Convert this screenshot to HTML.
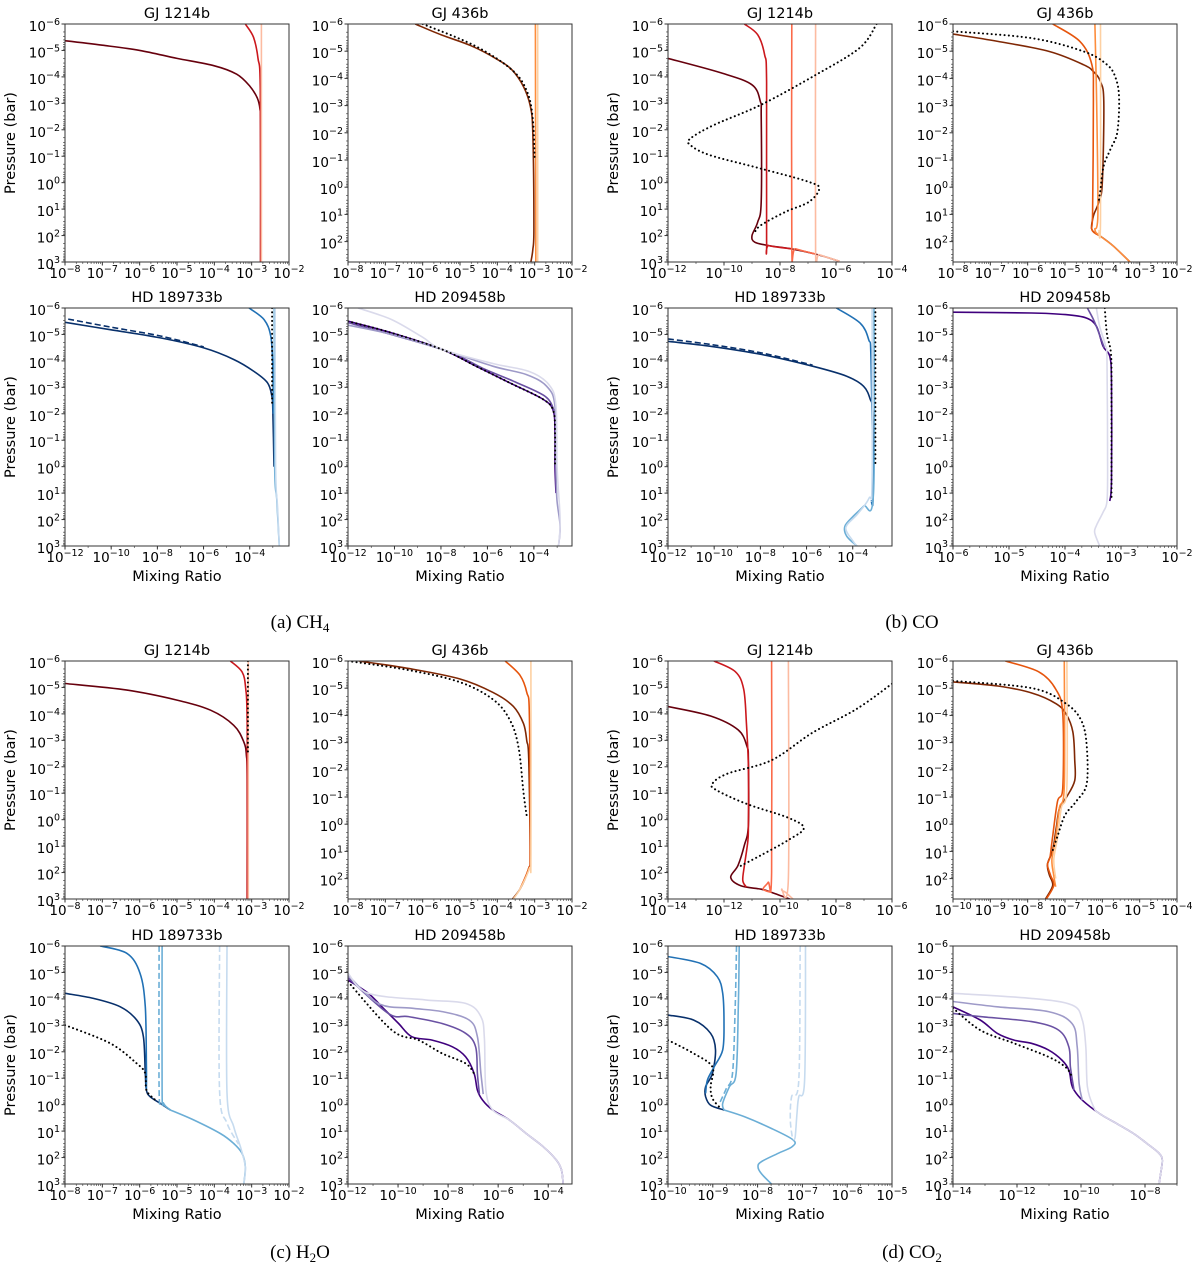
<!DOCTYPE html>
<html><head><meta charset="utf-8">
<style>
html,body{margin:0;padding:0;background:#fff;}
svg{display:block;}
text{font-family:"DejaVu Sans","Liberation Sans",sans-serif;fill:#000;}
.cap{font-family:"Liberation Serif",serif;font-size:19px;}
</style></head>
<body>
<svg id="fig" width="1200" height="1271" viewBox="0 0 1200 1271" xmlns="http://www.w3.org/2000/svg">
<text class="cap" x="300" y="628" text-anchor="middle">(a) CH<tspan dy="4" font-size="13">4</tspan></text>
<text class="cap" x="912" y="628" text-anchor="middle">(b) CO</text>
<text class="cap" x="300" y="1258" text-anchor="middle">(c) H<tspan dy="4" font-size="13">2</tspan><tspan dy="-4">O</tspan></text>
<text class="cap" x="912" y="1258" text-anchor="middle">(d) CO<tspan dy="4" font-size="13">2</tspan></text>
</svg>
<script>
// ---- data: [log10 mixing ratio, log10 pressure] ----
const a1_dark=[[-8,-5.37],[-7,-5.2],[-6,-5.0],[-5,-4.7],[-4,-4.42],[-3.4,-4.1],[-3.05,-3.65],[-2.85,-3.2],[-2.78,-2.8],[-2.76,-2],[-2.76,3]];
const a1_red=[[-3.17,-6],[-2.95,-5.5],[-2.83,-4.7],[-2.77,-3.5],[-2.76,3]];
const a1_light=[[-2.74,-6],[-2.74,3]];
const a2_dark=[[-6.2,-6],[-5.5,-5.6],[-4.7,-5.2],[-4.0,-4.7],[-3.6,-4.3],[-3.3,-3.7],[-3.12,-3.0],[-3.05,-2],[-3.02,1.5],[-3.05,2.3],[-3.1,2.75]];
const a2_dot=[[-6.0,-6],[-4.6,-5.2],[-3.6,-4.3],[-3.2,-3.5],[-3.05,-2.5],[-3.0,-1]];
const a2_orange=[[-2.98,-6],[-2.97,2.75]];
const a2_light=[[-2.92,-6],[-2.92,2.75]];
const a3_navy=[[-12,-5.46],[-10.04,-5.18],[-7.87,-4.87],[-5.99,-4.49],[-4.68,-4.05],[-3.81,-3.6],[-3.23,-3.17],[-3.04,-2.66],[-3.0,-2.16],[-2.95,0]];
const a3_navyd=[[-11.86,-5.58],[-10.04,-5.28],[-7.87,-4.94],[-5.99,-4.53]];
const a3_blue=[[-4.03,-6],[-3.38,-5.56],[-3.09,-4.93],[-3.0,-3.8],[-2.98,-2]];
const a3_light=[[-2.94,-6],[-2.92,0],[-2.83,1.24],[-2.72,3]];
const a3_lightest=[[-2.9,-6],[-2.88,0],[-2.8,1.5],[-2.72,3]];
const a3_dot=[[-3.03,-6],[-3.03,-2.3]];
const a4_dark=[[-12,-5.5],[-10.12,-5.06],[-7.94,-4.43],[-6.49,-3.8],[-5.04,-3.17],[-3.59,-2.54],[-3.16,-2.1],[-3.09,-1.28],[-3.09,0],[-3.05,1.0]];
const a4_mid=[[-12,-5.45],[-7.94,-4.43],[-6.2,-3.72],[-4.8,-3.2],[-3.5,-2.65],[-3.12,-2.1]];
const a4_light=[[-12,-5.35],[-10.12,-5.0],[-7.94,-4.43],[-5.77,-3.8],[-4.32,-3.48],[-3.45,-3.04],[-3.09,-2.28],[-3.05,0],[-3.01,1.24],[-2.87,2.25],[-2.94,3]];
const a4_lightest=[[-11.57,-6],[-10.12,-5.56],[-8.8,-4.9],[-7.94,-4.43],[-5.77,-3.9],[-4.2,-3.6],[-3.35,-3.1],[-3.05,-2.3],[-3.0,0],[-2.9,1.5],[-2.87,2.25],[-2.94,3]];
const a4_dot=[[-12,-5.5],[-10.12,-5.06],[-7.94,-4.43],[-6.49,-3.8],[-5.04,-3.17],[-3.59,-2.54],[-3.16,-2.1],[-3.09,-1.28],[-3.09,0]];

const b1_dark=[[-12,-4.7],[-10.1,-4.15],[-9.0,-3.7],[-8.7,-3.06],[-8.67,-2.56],[-8.67,0.73],[-8.8,1.5],[-9.0,2.0],[-8.9,2.25],[-8.4,2.38],[-7.6,2.5],[-6.73,2.7],[-5.88,2.97]];
const b1_red=[[-9.27,-6],[-8.8,-5.6],[-8.55,-4.84],[-8.48,-3.8],[-8.48,2.2],[-8.4,2.38],[-7.6,2.5]];
const b1_mid=[[-7.58,-6],[-7.58,2.38],[-7.45,2.5],[-6.73,2.7]];
const b1_light=[[-6.73,-6],[-6.73,2.6],[-6.6,2.72],[-5.88,2.97]];
const b1_dot=[[-4.55,-6],[-5.15,-5.1],[-6.73,-4.07],[-8.67,-2.95],[-10.36,-2.18],[-11.2,-1.67],[-11.2,-1.42],[-10.5,-1.04],[-8.67,-0.53],[-6.97,-0.03],[-6.6,0.23],[-6.97,0.73],[-7.8,1.1],[-8.67,1.6],[-8.9,1.86]];
const b2_dark=[[-8,-5.63],[-6.8,-5.36],[-5.42,-4.99],[-4.5,-4.5],[-4.24,-4.25],[-4.05,-3.88],[-3.96,-3.14],[-4.0,-0.17],[-4.1,0.57],[-4.24,1.06],[-4.28,1.56],[-4.05,1.8],[-3.7,2.17],[-3.23,2.79]];
const b2_orange=[[-5.33,-6],[-4.6,-5.36],[-4.28,-4.5],[-4.24,-3.26],[-4.26,0.9],[-4.28,1.56],[-4.05,1.8]];
const b2_light=[[-4.2,-6],[-4.15,-3],[-4.12,1.0],[-4.2,1.56],[-4.05,1.8],[-3.7,2.17],[-3.23,2.79]];
const b2_lightest=[[-4.05,-6],[-4.05,1.2],[-4.1,1.6]];
const b2_dot=[[-8,-5.73],[-5.9,-5.48],[-4.5,-4.99],[-3.87,-4.5],[-3.64,-4.0],[-3.55,-3.26],[-3.6,-2.02],[-3.78,-1.4],[-3.96,-0.8],[-4.05,0.07],[-4.1,0.57]];
const b3_navy=[[-12,-4.74],[-10.15,-4.55],[-7.94,-4.24],[-5.74,-3.8],[-4.26,-3.42],[-3.53,-3.04],[-3.24,-2.54],[-3.15,-2.03],[-3.12,0.99]];
const b3_navyd=[[-12,-4.83],[-10.15,-4.62],[-7.94,-4.3],[-5.74,-3.84]];
const b3_blue=[[-4.71,-6],[-3.68,-5.43],[-3.31,-4.8],[-3.21,-4.05],[-3.12,1.0],[-3.2,1.3]];
const b3_light=[[-3.08,-6],[-3.1,1.0],[-3.53,1.49],[-3.97,1.87],[-4.34,2.25],[-4.26,2.63],[-3.82,3]];
const b3_lightest=[[-3.16,-6],[-3.16,0.5],[-3.3,1.2],[-3.8,1.8],[-4.3,2.3],[-4.0,2.8],[-3.82,3]];
const b3_dot=[[-3.02,-6],[-3.02,0]];
const b4_dark=[[-6,-5.84],[-4.6,-5.81],[-3.99,-5.75],[-3.62,-5.62],[-3.44,-5.31],[-3.32,-4.55],[-3.2,-4.17],[-3.17,-3.17],[-3.17,0.5],[-3.2,1.3]];
const b4_mid=[[-3.6,-6],[-3.5,-5.6],[-3.42,-5.2],[-3.3,-4.5]];
const b4_light=[[-3.44,-6],[-3.38,-5.3],[-3.28,-4.6],[-3.25,-4],[-3.24,0],[-3.25,1.3],[-3.32,1.72],[-3.44,2.23],[-3.47,2.5],[-3.38,3]];
const b4_dot=[[-3.29,-6],[-3.25,-5.0],[-3.18,-4.3],[-3.17,-3],[-3.17,1.2]];

const c1_dark=[[-8,-5.15],[-6.34,-4.9],[-5.0,-4.52],[-4.1,-4.14],[-3.48,-3.57],[-3.21,-2.94],[-3.14,-2.43],[-3.12,-1.5],[-3.12,3]];
const c1_red=[[-3.57,-6],[-3.26,-5.59],[-3.16,-4.96],[-3.12,-3.5],[-3.12,3]];
const c1_light=[[-3.09,-6],[-3.09,3]];
const c1_dot=[[-3.1,-6],[-3.1,-2.5]];
const c2_dark=[[-7.71,-6],[-6.36,-5.72],[-5.0,-5.34],[-4.11,-4.84],[-3.57,-4.33],[-3.3,-3.7],[-3.21,-3.06],[-3.16,-2.43],[-3.12,1.11],[-3.16,1.62],[-3.39,2.38],[-3.75,3.0]];
const c2_dot=[[-8,-6],[-6.36,-5.66],[-5.0,-5.22],[-4.11,-4.58],[-3.66,-3.82],[-3.43,-2.81],[-3.3,-1.16],[-3.21,-0.28]];
const c2_orange=[[-3.79,-6],[-3.39,-5.47],[-3.21,-4.84],[-3.14,-3.95],[-3.12,1.11],[-3.16,1.62],[-3.39,2.38]];
const c2_light=[[-3.1,-6],[-3.1,1.11],[-3.14,1.62],[-3.39,2.38],[-3.6,2.8]];
const c3_navy=[[-8,-4.21],[-7.24,-4.02],[-6.52,-3.7],[-6.08,-3.2],[-5.9,-2.57],[-5.85,-1.18],[-5.82,-0.55],[-5.72,-0.3],[-5.45,-0.05],[-5.18,0.2]];
const c3_tail=[[-5.18,0.2],[-4.55,0.58],[-3.84,1.09],[-3.48,1.47],[-3.26,1.84],[-3.17,2.35],[-3.21,3]];
const c3_blue=[[-7.06,-6],[-6.34,-5.72],[-5.99,-4.97],[-5.85,-3.7],[-5.82,-1.5],[-5.82,-0.55]];
const c3_lb=[[-5.4,-6],[-5.4,-0.55],[-5.36,-0.05],[-5.18,0.2]];
const c3_lbd=[[-5.48,-6],[-5.48,-0.6],[-5.42,-0.1],[-5.18,0.2]];
const c3_vl=[[-3.66,-6],[-3.66,-0.45],[-3.48,0.83],[-3.3,1.6],[-3.17,2.35],[-3.21,3]];
const c3_vld=[[-3.86,-6],[-3.86,-0.5],[-3.66,0.7],[-3.35,1.5]];
const c3_dot=[[-8,-3.01],[-6.79,-2.32],[-6.08,-1.56],[-5.85,-1.18],[-5.82,-0.55],[-5.6,-0.2]];
const c4_dark=[[-12,-4.71],[-11.19,-4.21],[-10.52,-3.58],[-9.98,-3.07],[-9.45,-2.57],[-8.64,-2.44],[-7.83,-2.19],[-7.3,-1.81],[-6.96,-1.18],[-6.83,-0.55],[-6.62,-0.17],[-6.22,0.2],[-5.55,0.58],[-4.88,1.09],[-4.2,1.59],[-3.67,2.1],[-3.47,2.47],[-3.4,3]];
const c4_dot=[[-12,-4.65],[-10.25,-2.82],[-9.18,-2.44],[-8.24,-1.94],[-7.3,-1.56],[-6.96,-1.18]];
const c4_mid=[[-12,-4.8],[-10.39,-3.45],[-9.58,-3.33],[-8.24,-3.07],[-7.3,-2.7],[-6.9,-2.19],[-6.83,-1.18],[-6.75,-0.4]];
const c4_light=[[-12,-4.9],[-10.79,-3.83],[-9.5,-3.65],[-8.24,-3.52],[-7.16,-3.2],[-6.83,-2.57],[-6.69,-1.18],[-6.6,-0.4]];
const c4_lightest=[[-12,-4.97],[-11.19,-4.21],[-8.91,-3.96],[-7.3,-3.83],[-6.69,-3.33],[-6.55,-2.5],[-6.49,-0.55],[-6.22,0.2],[-5.55,0.58],[-4.88,1.09],[-4.2,1.59],[-3.67,2.1],[-3.47,2.47],[-3.4,3]];

const d1_dark=[[-14,-4.28],[-12.48,-3.92],[-11.5,-3.4],[-11.18,-2.77],[-11.13,-2.25],[-11.13,0.19],[-11.27,0.96],[-11.5,1.73],[-11.76,2.18],[-11.4,2.5],[-10.67,2.63],[-10.3,2.75],[-9.45,3.08]];
const d1_red=[[-12.36,-6],[-11.6,-5.6],[-11.3,-4.95],[-11.2,-3.66],[-11.13,-2],[-11.13,0.19],[-11.15,0.83],[-11.27,1.73],[-11.33,2.3],[-11.2,2.55]];
const d1_mid=[[-10.3,-6],[-10.3,2.0],[-10.42,2.37],[-10.6,2.63],[-10.3,2.75]];
const d1_light=[[-9.7,-6],[-9.7,2.2],[-9.94,2.63],[-9.8,2.75],[-9.45,3.08]];
const d1_dot=[[-6,-5.14],[-7.27,-4.18],[-8.85,-3.28],[-10.3,-2.25],[-11.88,-1.74],[-12.42,-1.35],[-12.24,-1.1],[-11.15,-0.58],[-9.7,-0.07],[-9.15,0.32],[-9.7,0.77],[-10.67,1.34],[-11.5,1.8]];
const d2_dark=[[-10,-5.23],[-8.8,-5.08],[-7.88,-4.82],[-7.24,-4.43],[-6.97,-4.05],[-6.79,-3.4],[-6.74,-2.38],[-6.74,-1.6],[-6.97,-0.97],[-7.15,-0.58],[-7.24,0.19],[-7.33,0.96],[-7.47,1.47],[-7.42,1.86],[-7.33,2.25],[-7.52,2.75],[-7.7,3.2]];
const d2_orange=[[-8.6,-6],[-7.7,-5.6],[-7.24,-4.95],[-7.06,-4.05],[-7.06,-1.35],[-7.2,-0.84],[-7.33,0.44],[-7.4,1.2],[-7.47,1.5],[-7.38,1.9],[-7.3,2.25],[-7.5,2.75]];
const d2_light=[[-7.02,-6],[-7.02,-1.4],[-7.15,-0.6],[-7.25,0.5],[-7.35,1.3],[-7.3,1.9],[-7.25,2.3]];
const d2_lightest=[[-6.95,-6],[-6.95,-1.4],[-7.1,-0.6],[-7.2,0.5],[-7.3,1.3],[-7.25,2.0]];
const d2_dot=[[-10,-5.27],[-7.88,-5.0],[-6.97,-4.43],[-6.56,-3.8],[-6.42,-2.9],[-6.42,-1.48],[-6.7,-0.84],[-7.0,-0.33],[-7.2,0.44],[-7.33,0.96]];
const d3_navy=[[-10,-3.39],[-9.43,-3.2],[-9.05,-2.7],[-8.94,-2.07],[-9.01,-1.18],[-9.16,-0.68],[-9.16,-0.3],[-9.05,0.02],[-8.75,0.2]];
const d3_tail=[[-8.75,0.2],[-8.29,0.46],[-7.69,0.9],[-7.2,1.34],[-7.23,1.59],[-7.54,1.84],[-7.92,2.16],[-7.99,2.35],[-7.92,2.6],[-7.69,3]];
const d3_blue=[[-10,-5.6],[-9.27,-5.34],[-8.9,-4.84],[-8.78,-4.21],[-8.75,-3.07],[-8.78,-2.07],[-8.97,-1.43],[-9.12,-0.93],[-9.16,-0.43]];
const d3_lb=[[-8.41,-6],[-8.43,-3.7],[-8.48,-1.18],[-8.63,-0.68],[-8.78,-0.05],[-8.75,0.2]];
const d3_lbd=[[-8.47,-6],[-8.5,-3.7],[-8.56,-1.18],[-8.7,-0.6],[-8.85,-0.05]];
const d3_vl=[[-6.93,-6],[-6.95,-0.93],[-7.08,-0.3],[-7.12,0.33],[-7.16,1.21],[-7.2,1.34]];
const d3_vld=[[-7.05,-6],[-7.08,-0.93],[-7.24,-0.3],[-7.27,0.58],[-7.22,1.3]];
const d3_dot=[[-10,-2.44],[-9.43,-1.94],[-9.01,-1.43],[-9.05,-0.68],[-9.01,-0.24],[-8.86,0.08]];
const d4_dark=[[-14,-3.7],[-13.15,-3.2],[-12.62,-2.7],[-12.09,-2.44],[-11.55,-2.32],[-11.02,-2.07],[-10.6,-1.69],[-10.38,-1.31],[-10.3,-0.8],[-10.22,-0.55],[-9.96,-0.17],[-9.43,0.33],[-8.89,0.71],[-8.36,1.09],[-7.94,1.47],[-7.56,1.84],[-7.46,2.1],[-7.51,2.6],[-7.56,3]];
const d4_dot=[[-14,-3.65],[-13.15,-2.82],[-12.09,-2.32],[-11.02,-1.81],[-10.49,-1.43],[-10.3,-1.1]];
const d4_mid=[[-14,-3.45],[-13.15,-3.33],[-11.55,-3.14],[-10.7,-2.82],[-10.38,-2.19],[-10.33,-1.43],[-10.22,-0.55]];
const d4_light=[[-14,-3.9],[-12.62,-3.7],[-11.02,-3.52],[-10.28,-3.07],[-10.12,-2.19],[-10.06,-0.8],[-9.96,-0.17]];
const d4_lightest=[[-14,-4.21],[-11.55,-4.02],[-10.28,-3.77],[-9.96,-3.2],[-9.85,-2.19],[-9.8,-0.68],[-9.6,0.1],[-9.43,0.33],[-8.89,0.71],[-8.36,1.09],[-7.94,1.47],[-7.56,1.84],[-7.46,2.1],[-7.51,2.6],[-7.56,3]];

// tick exponents
const xt_8_2=[-8,-7,-6,-5,-4,-3,-2];
const xt_12_4=[-12,-10,-8,-6,-4];
const xt_6_2=[-6,-5,-4,-3,-2];
const xt_14_6=[-14,-12,-10,-8,-6];
const xt_10_4=[-10,-9,-8,-7,-6,-5,-4];
const xt_10_5=[-10,-9,-8,-7,-6,-5];
const xt_14_8=[-14,-12,-10,-8];
const yt_full=[-6,-5,-4,-3,-2,-1,0,1,2,3];
const yt_436=[-6,-5,-4,-3,-2,-1,0,1,2];

const R=['#67000d','#cb181d','#fb6a4a','#fcbba1'];
const O=['#7f2704','#e6550d','#fd8d3c','#fdd0a2'];
const B=['#08306b','#2171b5','#6baed6','#c6dbef'];
const P=['#3f007d','#6a51a3','#9e9ac8','#dadaeb'];
const K='#000';

const cols=[65,348,668,953], rows=[24,308,661,946], W=224, H=238;
const panels=[
 {id:'ch4-gj1214b',c:0,r:0,t:'GJ 1214b',x:[-8,-2],pm:3,xt:xt_8_2,yt:yt_full,minor:true,L:[[a1_light,R[3]],[a1_red,R[1]],[a1_dark,R[0]]]},
 {id:'ch4-gj436b',c:1,r:0,t:'GJ 436b',x:[-8,-2],pm:2.75,xt:xt_8_2,yt:yt_436,minor:true,L:[[a2_light,O[3]],[a2_orange,O[2]],[a2_dark,O[0]],[a2_dot,K,'dot']]},
 {id:'ch4-hd189733b',c:0,r:1,t:'HD 189733b',x:[-12,-2.3],pm:3,xt:xt_12_4,yt:yt_full,L:[[a3_lightest,B[3]],[a3_light,B[2]],[a3_blue,B[1]],[a3_navyd,B[0],'dash'],[a3_navy,B[0]],[a3_dot,K,'dot']]},
 {id:'ch4-hd209458b',c:1,r:1,t:'HD 209458b',x:[-12,-2.36],pm:3,xt:xt_12_4,yt:yt_full,L:[[a4_lightest,P[3]],[a4_light,P[2]],[a4_mid,P[1]],[a4_dark,P[0]],[a4_dot,K,'dot']]},
 {id:'co-gj1214b',c:2,r:0,t:'GJ 1214b',x:[-12,-4],pm:3,xt:xt_12_4,yt:yt_full,L:[[b1_light,R[3]],[b1_mid,R[2]],[b1_red,R[1]],[b1_dark,R[0]],[b1_dot,K,'dot']]},
 {id:'co-gj436b',c:3,r:0,t:'GJ 436b',x:[-8,-2],pm:2.75,xt:xt_8_2,yt:yt_436,minor:true,L:[[b2_lightest,O[3]],[b2_light,O[2]],[b2_orange,O[1]],[b2_dark,O[0]],[b2_dot,K,'dot']]},
 {id:'co-hd189733b',c:2,r:1,t:'HD 189733b',x:[-12,-2.3],pm:3,xt:xt_12_4,yt:yt_full,L:[[b3_lightest,B[3]],[b3_light,B[2]],[b3_blue,B[1]],[b3_navyd,B[0],'dash'],[b3_navy,B[0]],[b3_dot,K,'dot']]},
 {id:'co-hd209458b',c:3,r:1,t:'HD 209458b',x:[-6,-2],pm:3,xt:xt_6_2,yt:yt_full,minor:true,L:[[b4_light,P[3]],[b4_mid,P[1]],[b4_dark,P[0]],[b4_dot,K,'dot']]},
 {id:'h2o-gj1214b',c:0,r:2,t:'GJ 1214b',x:[-8,-2],pm:3,xt:xt_8_2,yt:yt_full,minor:true,L:[[c1_light,R[3]],[c1_red,R[1]],[c1_dark,R[0]],[c1_dot,K,'dot']]},
 {id:'h2o-gj436b',c:1,r:2,t:'GJ 436b',x:[-8,-2],pm:2.75,xt:xt_8_2,yt:yt_436,minor:true,L:[[c2_light,O[3]],[c2_orange,O[1]],[c2_dark,O[0]],[c2_dot,K,'dot']]},
 {id:'h2o-hd189733b',c:0,r:3,t:'HD 189733b',x:[-8,-2],pm:3,xt:xt_8_2,yt:yt_full,minor:true,L:[[c3_vl,B[3]],[c3_vld,B[3],'dash'],[c3_tail,B[2]],[c3_lb,B[2]],[c3_lbd,B[2],'dash'],[c3_blue,B[1]],[c3_navy,B[0]],[c3_dot,K,'dot']]},
 {id:'h2o-hd209458b',c:1,r:3,t:'HD 209458b',x:[-12,-3.05],pm:3,xt:xt_12_4,yt:yt_full,L:[[c4_lightest,P[3]],[c4_light,P[2]],[c4_mid,P[1]],[c4_dark,P[0]],[c4_dot,K,'dot']]},
 {id:'co2-gj1214b',c:2,r:2,t:'GJ 1214b',x:[-14,-6],pm:3,xt:xt_14_6,yt:yt_full,L:[[d1_light,R[3]],[d1_mid,R[2]],[d1_red,R[1]],[d1_dark,R[0]],[d1_dot,K,'dot']]},
 {id:'co2-gj436b',c:3,r:2,t:'GJ 436b',x:[-10,-4],pm:2.75,xt:xt_10_4,yt:yt_436,minor:true,L:[[d2_lightest,O[3]],[d2_light,O[2]],[d2_orange,O[1]],[d2_dark,O[0]],[d2_dot,K,'dot']]},
 {id:'co2-hd189733b',c:2,r:3,t:'HD 189733b',x:[-10,-5],pm:3,xt:xt_10_5,yt:yt_full,minor:true,L:[[d3_vl,B[3]],[d3_vld,B[3],'dash'],[d3_tail,B[2]],[d3_lb,B[2]],[d3_lbd,B[2],'dash'],[d3_blue,B[1]],[d3_navy,B[0]],[d3_dot,K,'dot']]},
 {id:'co2-hd209458b',c:3,r:3,t:'HD 209458b',x:[-14,-7],pm:3,xt:xt_14_8,yt:yt_full,L:[[d4_lightest,P[3]],[d4_light,P[2]],[d4_mid,P[1]],[d4_dark,P[0]],[d4_dot,K,'dot']]}
];

const NS='http://www.w3.org/2000/svg';
const svg=document.getElementById('fig');
function mk(tag,attrs,parent){const e=document.createElementNS(NS,tag);for(const k in attrs)e.setAttribute(k,attrs[k]);(parent||svg).appendChild(e);return e;}
function pathD(pts){
  if(pts.length<2)return '';
  let d='M'+pts[0][0].toFixed(1)+','+pts[0][1].toFixed(1);
  for(let i=0;i<pts.length-1;i++){
    const p0=pts[Math.max(0,i-1)],p1=pts[i],p2=pts[i+1],p3=pts[Math.min(pts.length-1,i+2)];
    const c1=[p1[0]+(p2[0]-p0[0])/6,p1[1]+(p2[1]-p0[1])/6];
    const c2=[p2[0]-(p3[0]-p1[0])/6,p2[1]-(p3[1]-p1[1])/6];
    d+=' C'+c1[0].toFixed(1)+','+c1[1].toFixed(1)+' '+c2[0].toFixed(1)+','+c2[1].toFixed(1)+' '+p2[0].toFixed(1)+','+p2[1].toFixed(1);
  }
  return d;
}
function tickLabel(parent,x,y,exp,anchor){
  const t=mk('text',{x:x,y:y,'text-anchor':anchor,'font-size':'13.5'},parent);
  
  
  t.appendChild(document.createTextNode('10'));
  const s=mk('tspan',{dy:'-6','font-size':'9.5'},t);
  s.textContent=(exp<0?'\u2212':'')+Math.abs(exp);
  return t;
}
panels.forEach((p,pi)=>{
  const x0=cols[p.c],y0=rows[p.r];
  const g=mk('g',{});
  
  
  const xs=v=>x0+(v-p.x[0])/(p.x[1]-p.x[0])*W;
  const ys=v=>y0+(v+6)/(p.pm+6)*H;
  const cp=mk('clipPath',{id:'clip'+pi},g);
  mk('rect',{x:x0,y:y0,width:W,height:H},cp);
  const lines=mk('g',{'clip-path':'url(#clip'+pi+')'},g);
  const solids=p.L.filter(L=>L[2]!=='dot').reverse();
  const dots=p.L.filter(L=>L[2]==='dot');
  solids.concat(dots).forEach(L=>{
    const pts=L[0].map(q=>[xs(q[0]),ys(q[1])]);
    const style=L[2];
    const a={d:pathD(pts),fill:'none',stroke:L[1],'stroke-width':style==='dot'?2:1.6,'stroke-linecap':style==='dot'?'round':'butt'};
    if(style==='dot')a['stroke-dasharray']='0.1 4.2';
    if(style==='dash')a['stroke-dasharray']='6 3';
    const e=mk('path',a,lines);
    
    
  });
  const fr=mk('rect',{x:x0,y:y0,width:W,height:H,fill:'none',stroke:'#333','stroke-width':1},g);
  
  
  p.xt.forEach(e=>{
    const x=xs(e);
    mk('line',{x1:x,x2:x,y1:y0+H,y2:y0+H+3.5,stroke:'#333'},g);
    tickLabel(g,x,y0+H+16,e,'middle');
  });
  if(p.minor){
    for(let d=Math.floor(p.x[0]);d<Math.ceil(p.x[1]);d++)for(let k=2;k<10;k++){
      const v=d+Math.log10(k);if(v<=p.x[0]||v>=p.x[1])continue;
      const x=xs(v);mk('line',{x1:x,x2:x,y1:y0+H,y2:y0+H+2,stroke:'#333','stroke-width':0.6},g);
    }
  } else {
    for(let d=Math.ceil(p.x[0]);d<=p.x[1];d++){const x=xs(d);mk('line',{x1:x,x2:x,y1:y0+H,y2:y0+H+2,stroke:'#333','stroke-width':0.6},g);}
  }
  p.yt.forEach(e=>{
    const y=ys(e);
    mk('line',{x1:x0-3.5,x2:x0,y1:y,y2:y,stroke:'#333'},g);
    tickLabel(g,x0-5,y+7,e,'end');
  });
  for(let d=-6;d<Math.ceil(p.pm);d++)for(let k=2;k<10;k++){
    const v=d+Math.log10(k);if(v>=p.pm)continue;
    const y=ys(v);mk('line',{x1:x0-2,x2:x0,y1:y,y2:y,stroke:'#333','stroke-width':0.6},g);
  }
  const tt=mk('text',{x:x0+W/2,y:y0-6,'text-anchor':'middle','font-size':'14.5'},g);
  tt.textContent=p.t;
  
  
  if(p.c===0||p.c===2){
    const cy=y0+H/2,cx=x0-50;
    const yl=mk('text',{x:cx,y:cy,'text-anchor':'middle','font-size':'14.5',transform:'rotate(-90 '+cx+' '+cy+')'},g);
    yl.textContent='Pressure (bar)';
    
    
  }
  if(p.r===1||p.r===3){
    const xl=mk('text',{x:x0+W/2,y:y0+H+35,'text-anchor':'middle','font-size':'14.5'},g);
    xl.textContent='Mixing Ratio';
    
    
  }
});
</script>
</body></html>
